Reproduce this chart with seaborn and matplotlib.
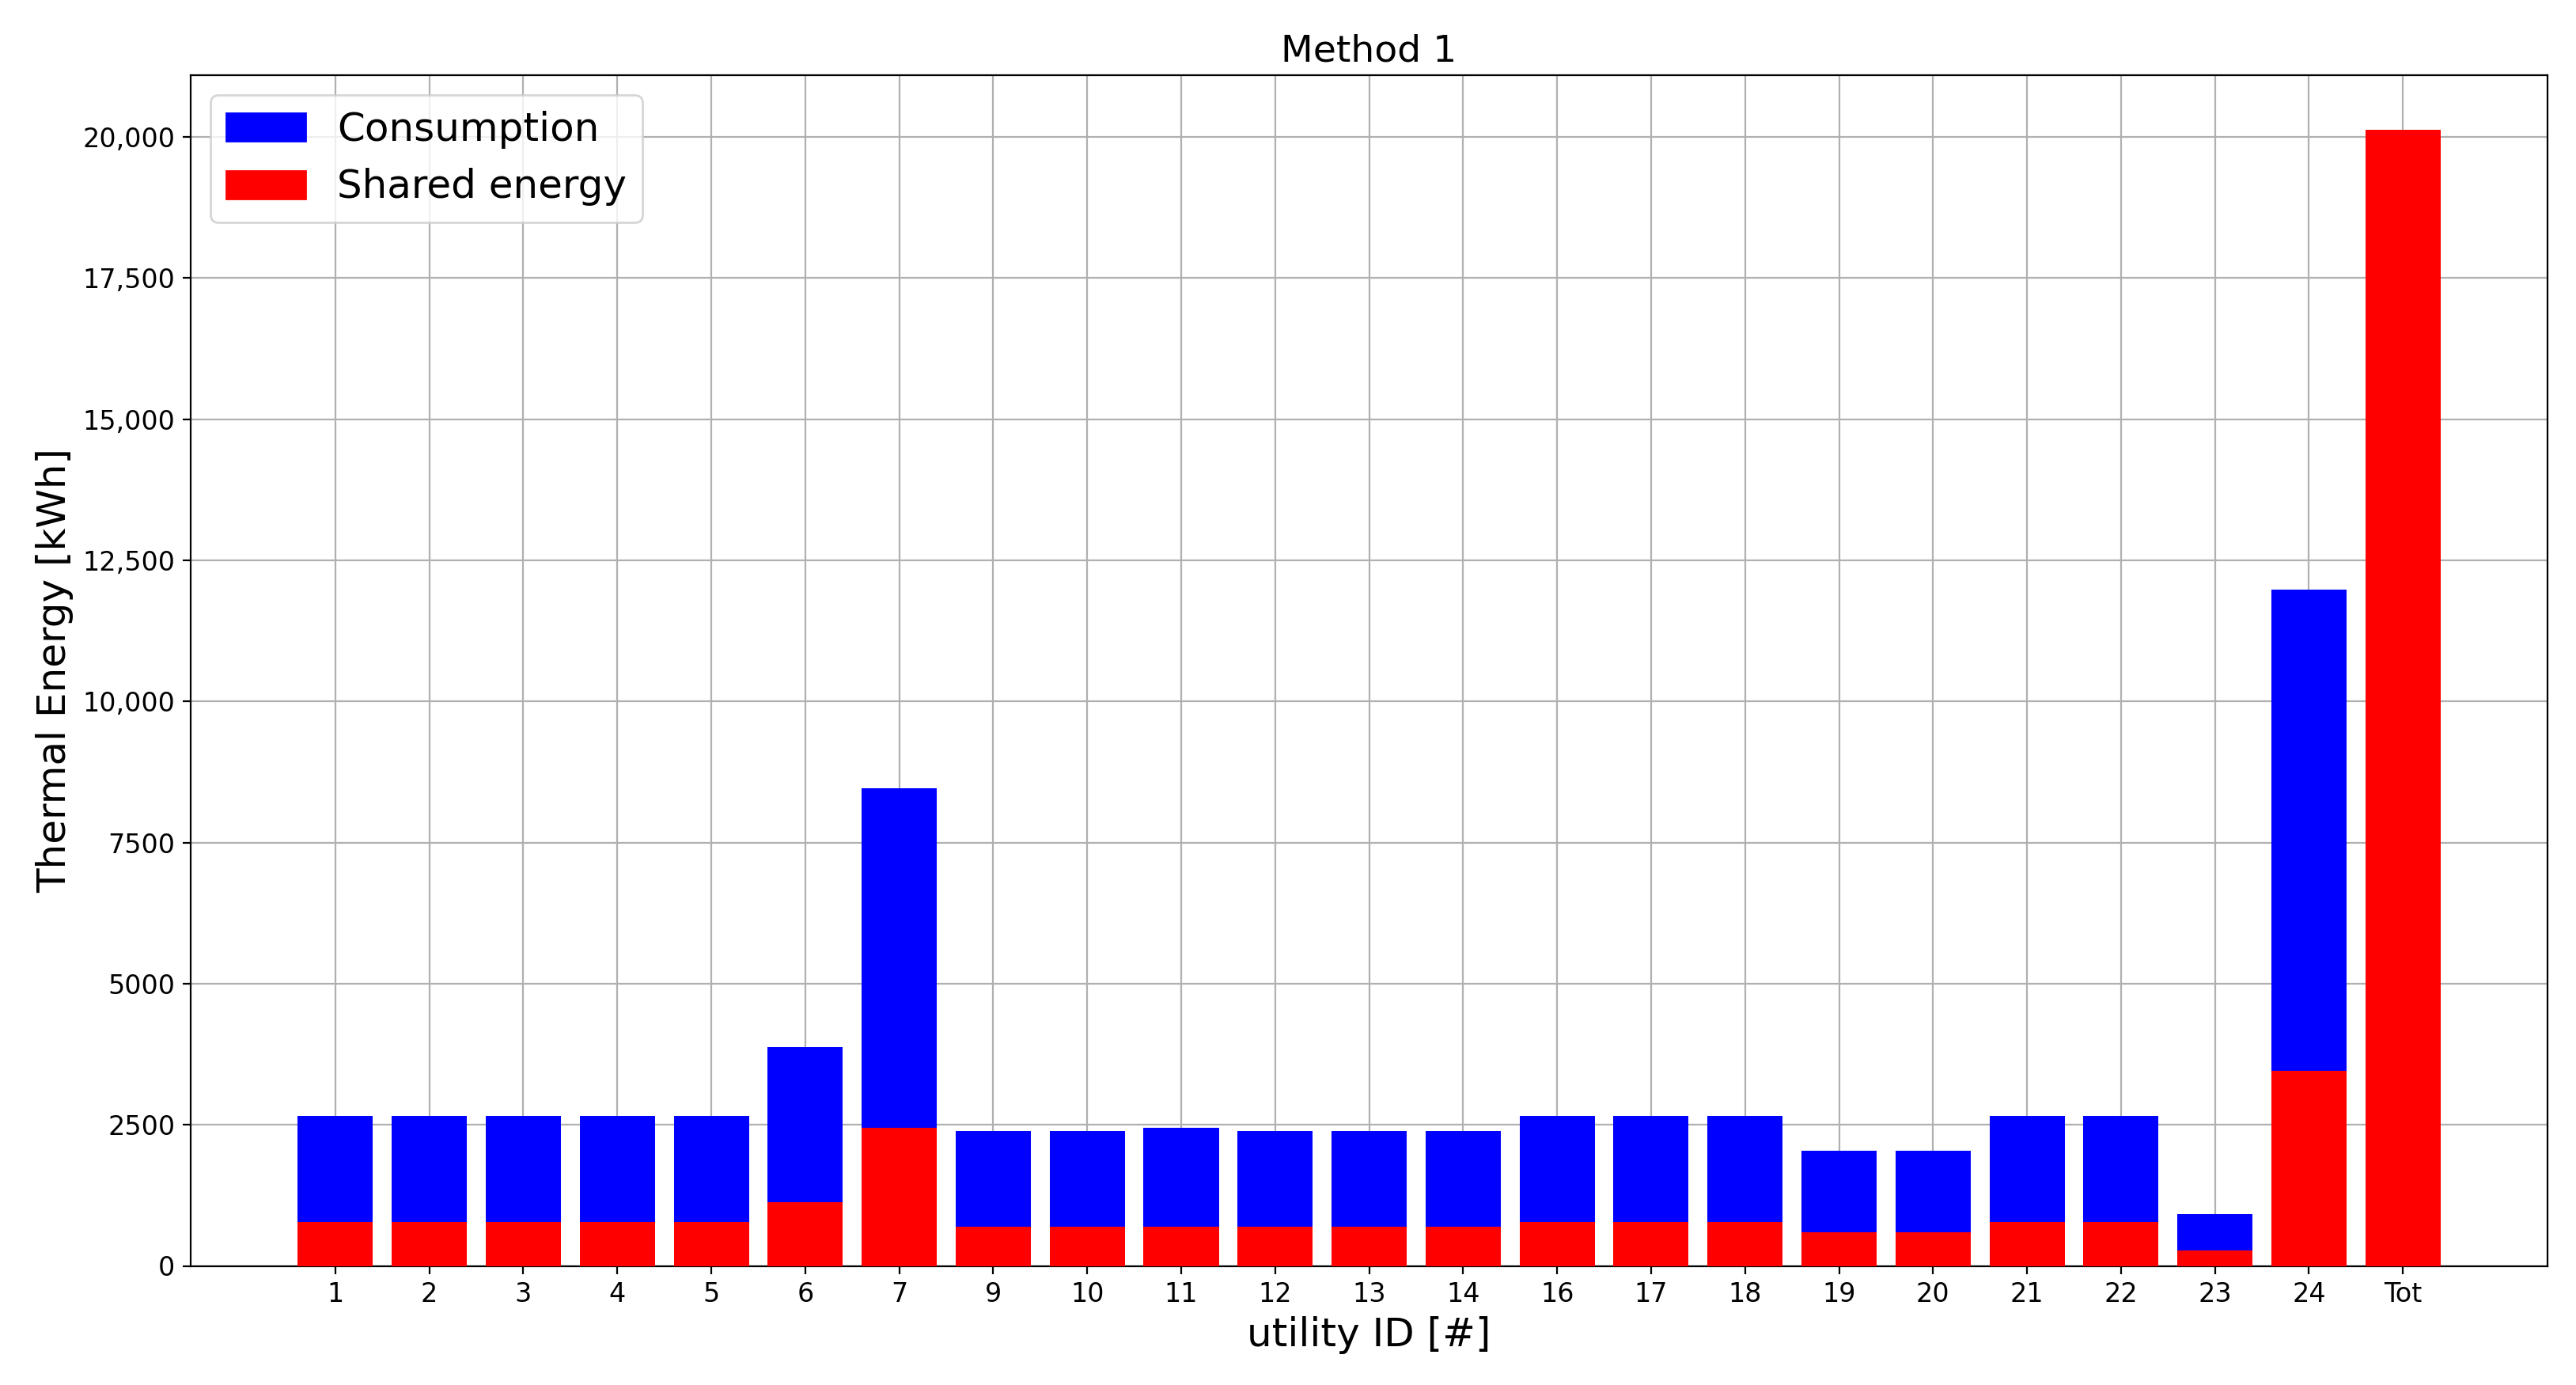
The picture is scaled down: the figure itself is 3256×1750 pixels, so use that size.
import matplotlib
matplotlib.use("Agg")
import matplotlib.pyplot as plt
import seaborn as sns
import pandas as pd
from matplotlib.patches import Patch
from matplotlib.ticker import FuncFormatter

# values
utility_ids = ['1', '2', '3', '4', '5', '6', '7', '9', '10', '11', '12', '13', '14',
               '16', '17', '18', '19', '20', '21', '22', '23', '24', 'Tot']
consumption = [2650, 2650, 2650, 2650, 2650, 3870, 8460, 2390, 2390, 2440, 2390, 2390, 2390,
               2650, 2650, 2650, 2040, 2040, 2650, 2650, 920, 11980, 0]
shared_energy = [785, 785, 785, 785, 785, 1130, 2440, 700, 700, 700, 700, 700, 700,
                 785, 785, 785, 590, 590, 785, 785, 270, 3460, 20120]

df = pd.DataFrame({'id': utility_ids, 'consumption': consumption, 'shared': shared_energy})

fig = plt.figure(figsize=(16.28, 8.75), dpi=200)
ax = fig.add_axes([0.074, 0.086, 0.915, 0.86])

sns.barplot(data=df, x='id', y='consumption', order=utility_ids, color='blue',
            saturation=1, width=0.8, ax=ax, zorder=3)
sns.barplot(data=df, x='id', y='shared', order=utility_ids, color='red',
            saturation=1, width=0.8, ax=ax, zorder=3)

ax.set_axisbelow(True)
ax.grid(True, color='#b0b0b0', linewidth=0.8, zorder=0)
ax.set_xlim(-1.54, len(utility_ids) - 1 + 1.54)
ax.set_ylim(0, 21100)
ax.set_yticks(range(0, 20001, 2500))
ax.yaxis.set_major_formatter(FuncFormatter(
    lambda v, p: f"{v:,.0f}" if v >= 10000 else f"{v:.0f}"))
ax.tick_params(labelsize=12)

ax.set_title('Method 1', fontsize=17)
ax.set_xlabel('utility ID [#]', fontsize=18)
ax.set_ylabel('Thermal Energy [kWh]', fontsize=18)

handles = [Patch(color='blue', label='Consumption'), Patch(color='red', label='Shared energy')]
ax.legend(handles=handles, loc='upper left', fontsize=18)

fig.savefig('out.png', dpi=200)
